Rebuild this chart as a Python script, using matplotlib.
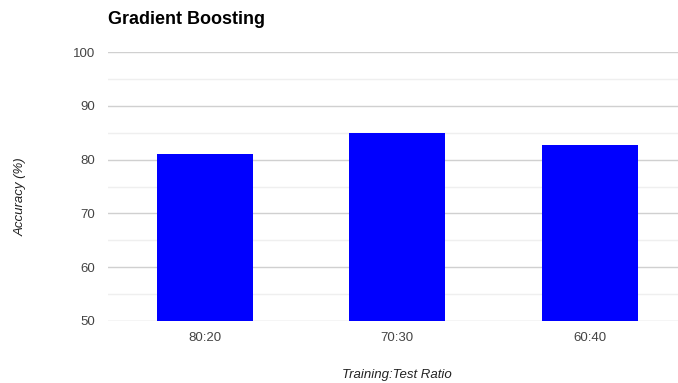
import matplotlib
matplotlib.use('Agg')
from matplotlib import pyplot as plt

# данные диаграммы
ratios = ['80:20', '70:30', '60:40']
accuracy = [81, 85, 82.8]
y_ticks = [50, 60, 70, 80, 90, 100]
y_minor = [55, 65, 75, 85, 95]

plt.rcParams['font.family'] = ['Liberation Sans', 'DejaVu Sans']

fig = plt.figure(dpi=100, figsize=(6.78, 3.83))
ax = fig.add_axes([0.1593, 0.1619, 0.8407, 0.7023])

ax.bar(range(len(ratios)), accuracy, width=0.5, color='#0000ff', zorder=3)

# форматирование осей
ax.set_ylim(50, 100)
ax.set_xlim(-0.505, 2.46)
ax.set_yticks(y_ticks)
ax.set_yticks(y_minor, minor=True)
ax.set_xticks(range(len(ratios)))
ax.set_xticklabels(ratios)
ax.grid(axis='y', which='major', color='#d0d0d0', linewidth=1, zorder=0)
ax.grid(axis='y', which='minor', color='#efefef', linewidth=1, zorder=0)
ax.tick_params(axis='both', which='both', length=0, labelsize=9.5, labelcolor='#444444')
ax.tick_params(axis='y', pad=9)
ax.tick_params(axis='x', pad=8)
for s in ax.spines.values():
    s.set_visible(False)

fig.text(0.159, 0.948, 'Gradient Boosting', fontsize=13, fontweight='bold',
         va='center', ha='left', color='#000000')
fig.text(0.030, 0.486, 'Accuracy (%)', rotation=90, style='italic', fontsize=9.5,
         va='center', ha='center', color='#222222')
fig.text(0.586, 0.022, 'Training:Test Ratio', style='italic', fontsize=9.5,
         va='center', ha='center', color='#222222')

fig.savefig('out.png', dpi=100)
